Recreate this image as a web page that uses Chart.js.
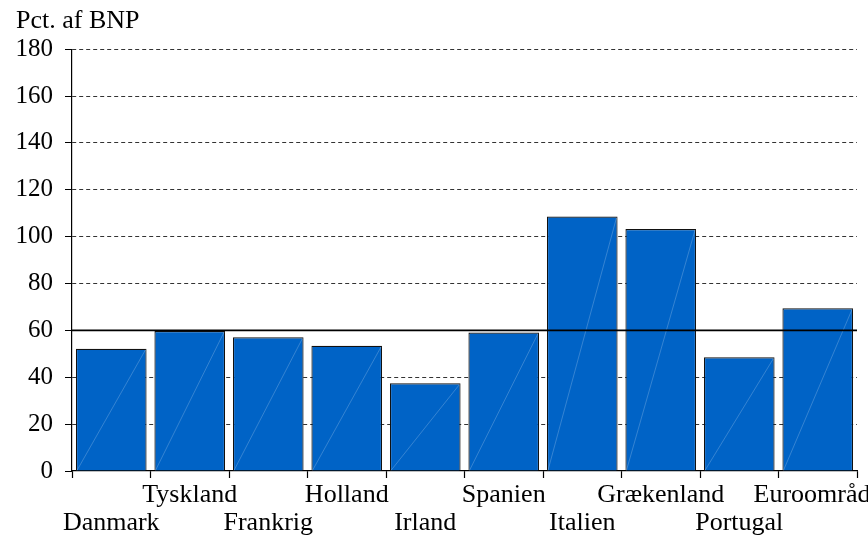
<!DOCTYPE html>
<html>
<head>
<meta charset="utf-8">
<script src="https://cdn.jsdelivr.net/npm/chart.js@4/dist/chart.umd.min.js"></script>
<style>
html,body{margin:0;padding:0;background:#fff;overflow:hidden;width:868px;height:539px;}
#wrap{position:relative;width:868px;height:539px;}
</style>
</head>
<body>
<div id="wrap"><canvas id="c"></canvas></div>
<script>
// Data
const categories = ['Danmark','Tyskland','Frankrig','Holland','Irland','Spanien','Italien','Grækenland','Portugal','Euroområde'];
const debtValues = [52.2, 59.7, 57.1, 53.4, 37.4, 59.1, 108.6, 103.3, 48.5, 69.4];
const yTicks = [0, 20, 40, 60, 80, 100, 120, 140, 160, 180];
const referenceLine = 60;
const titleText = 'Pct. af BNP';

// Stagger labels over two rows (odd index upper row, even index lower row)
const staggeredLabels = categories.map((c, i) => i % 2 === 0 ? ['', c] : [c, '']);

const FONT = 'Liberation Serif';

const diagPlugin = {
  id: 'diag',
  afterDatasetsDraw(chart) {
    const ctx = chart.ctx;
    const meta = chart.getDatasetMeta(0);
    ctx.save();
    ctx.strokeStyle = 'rgba(255,255,255,0.3)';
    ctx.lineWidth = 0.7;
    meta.data.forEach(bar => {
      const p = bar.getProps(['x','y','base','width'], true);
      ctx.beginPath();
      ctx.moveTo(p.x - p.width/2 + 1, p.base);
      ctx.lineTo(p.x + p.width/2 - 1, p.y + 1);
      ctx.stroke();
    });
    ctx.restore();
  }
};

const refLinePlugin = {
  id: 'refLine',
  afterDatasetsDraw(chart) {
    const {ctx, chartArea, scales} = chart;
    const y = scales.y.getPixelForValue(referenceLine);
    ctx.save();
    ctx.strokeStyle = '#000';
    ctx.lineWidth = 1.6;
    ctx.beginPath();
    ctx.moveTo(chartArea.left, y);
    ctx.lineTo(chartArea.right, y);
    ctx.stroke();
    ctx.restore();
  }
};

new Chart(document.getElementById('c'), {
  type: 'bar',
  data: {
    labels: staggeredLabels,
    datasets: [{
      data: debtValues,
      backgroundColor: '#0063C6',
      borderColor: '#111',
      borderWidth: 1.2,
      barPercentage: 0.9,
      categoryPercentage: 1.0
    }]
  },
  options: {
    responsive: true,
    maintainAspectRatio: false,
    animation: false,
    devicePixelRatio: 1,
    layout: { padding: { left: 16, right: 11, top: 6, bottom: 0 } },
    plugins: {
      legend: { display: false },
      tooltip: { enabled: false },
      title: {
        display: true,
        text: titleText,
        align: 'start',
        color: '#000',
        font: { family: FONT, size: 26, weight: 'normal', lineHeight: 1.2 },
        padding: { top: 0, bottom: 12 }
      }
    },
    scales: {
      x: {
        offset: true,
        afterFit(scale) { scale.paddingLeft = 0; scale.paddingRight = 0; scale.height = 68; },
        grid: {
          display: true,
          drawOnChartArea: false,
          offset: true,
          tickLength: 7,
          tickColor: '#000',
          tickWidth: 1.2
        },
        border: { display: true, color: '#000', width: 1.2 },
        ticks: {
          color: '#000',
          font: { family: FONT, size: 26, lineHeight: 1.08 },
          maxRotation: 0,
          minRotation: 0,
          autoSkip: false,
          padding: 3
        }
      },
      y: {
        min: 0,
        max: 180,
        afterBuildTicks(axis) { axis.ticks = yTicks.map(v => ({ value: v })); },
        afterFit(scale) { scale.width = 56; },
        grid: {
          display: true,
          color: ctx => ctx.tick && ctx.tick.value === 0 ? 'rgba(0,0,0,0)' : '#333',
          lineWidth: 1,
          tickLength: 7,
          tickColor: '#000',
          tickBorderDash: [],
          drawTicks: true
        },
        border: { display: true, color: '#000', width: 1.2, dash: [4, 3] },
        ticks: {
          color: '#000',
          font: { family: FONT, size: 25 },
          padding: 12
        }
      }
    }
  },
  plugins: [diagPlugin, refLinePlugin]
});
</script>
</body>
</html>
